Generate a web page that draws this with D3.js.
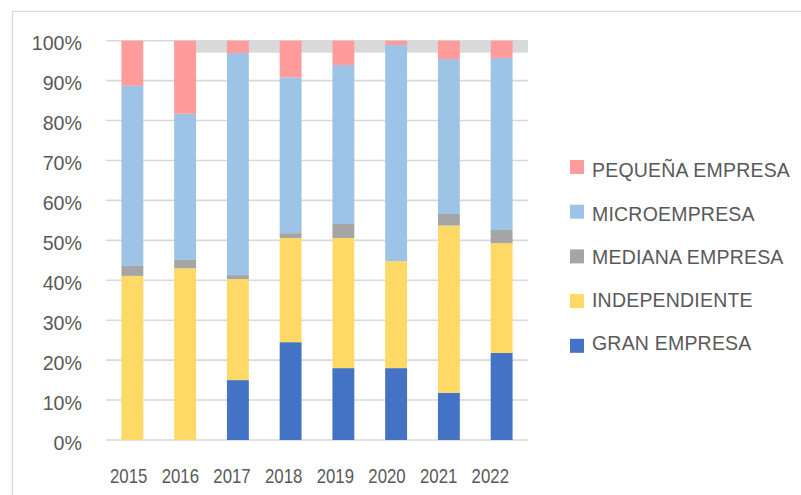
<!DOCTYPE html>
<html lang="es">
    <head>
        <meta charset="utf-8">
        <title>Empresas por tamaño 2015-2022</title>
        <script src="https://d3js.org/d3.v7.min.js"></script>
        <style type="text/css">
            body{
                margin: 0;
                background: #ffffff;
            }
            svg{
                display: block;
            }
            text{
                font-family: "Liberation Sans", Arial, sans-serif;
                fill: #595959;
            }
        </style>
    </head>
    <body>
        <svg width="801" height="495"></svg>
        <script type="text/javascript">

            // data (percent of each year)
            const years = ["2015", "2016", "2017", "2018", "2019", "2020", "2021", "2022"];
            const granEmpresa    = [0, 0, 15.0, 24.5, 18.0, 18.0, 11.8, 21.8];
            const independiente  = [41.1, 43.0, 25.3, 26.1, 32.6, 26.8, 41.9, 27.5];
            const medianaEmpresa = [2.5, 2.1, 1.0, 1.2, 3.5, 0, 2.9, 3.3];
            const microempresa   = [45.1, 36.6, 55.6, 39.0, 39.8, 54.1, 38.8, 43.1];
            const pequenaEmpresa = [11.3, 18.3, 3.1, 9.2, 6.1, 1.1, 4.6, 4.3];
            const yTicks = [0, 10, 20, 30, 40, 50, 60, 70, 80, 90, 100];

            const seriesNames = ["GRAN EMPRESA", "INDEPENDIENTE", "MEDIANA EMPRESA", "MICROEMPRESA", "PEQUEÑA EMPRESA"];
            const seriesValues = [granEmpresa, independiente, medianaEmpresa, microempresa, pequenaEmpresa];
            const colors = ["#4472C4", "#FFD966", "#A5A5A5", "#9DC3E6", "#FF9B9B"];

            // layout
            const plotLeft = 106, plotRight = 528;
            const plotTop = 40.7, plotBottom = 440;

            const svg = d3.select("svg");

            // table built from the arrays
            const table = years.map((y, i) => {
                const row = {year: y};
                seriesNames.forEach((s, k) => row[s] = seriesValues[k][i]);
                return row;
            });
            const stacked = d3.stack().keys(seriesNames)(table);

            const x = d3.scaleBand()
                .domain(years)
                .range([plotLeft, plotRight])
                .paddingInner(0.585)
                .paddingOuter(0.2925);

            const xLabel = d3.scalePoint()
                .domain(years)
                .range([128.7, 490.3]);

            const y = d3.scaleLinear()
                .domain([0, 100])
                .range([plotBottom, plotTop]);

            const color = d3.scaleOrdinal().domain(seriesNames).range(colors);

            // outer frame
            svg.append("rect")
                .attr("x", 12.5)
                .attr("y", 11.5)
                .attr("width", 800)
                .attr("height", 490)
                .attr("fill", "none")
                .attr("stroke", "#d9d9d9")
                .attr("stroke-width", 1.3);

            // gridlines
            svg.append("g")
                .selectAll("line")
                .data(yTicks)
                .join("line")
                .attr("x1", plotLeft)
                .attr("x2", plotRight)
                .attr("y1", d => y(d))
                .attr("y2", d => y(d))
                .attr("stroke", "#d9d9d9")
                .attr("stroke-width", 1.6);

            // grey strip near the top (present in the original)
            svg.append("rect")
                .attr("x", x("2016") + x.bandwidth())
                .attr("y", y(100))
                .attr("width", plotRight - (x("2016") + x.bandwidth()))
                .attr("height", y(97) - y(100))
                .attr("fill", "#d9d9d9");

            // bars
            svg.append("g")
                .selectAll("g")
                .data(stacked)
                .join("g")
                .attr("fill", d => color(d.key))
                .selectAll("rect")
                .data(d => d)
                .join("rect")
                .attr("x", d => x(d.data.year))
                .attr("y", d => y(d[1]))
                .attr("width", x.bandwidth())
                .attr("height", d => y(d[0]) - y(d[1]));

            // squeeze text horizontally (original font is narrow)
            function squeeze(sel, f){
                sel.each(function(){
                    const len = this.getComputedTextLength();
                    d3.select(this)
                        .attr("textLength", len * f)
                        .attr("lengthAdjust", "spacingAndGlyphs");
                });
            }

            // y labels
            svg.append("g")
                .selectAll("text")
                .data(yTicks)
                .join("text")
                .attr("x", 82)
                .attr("y", d => y(d) + 9.5)
                .attr("text-anchor", "end")
                .attr("font-size", "21px")
                .text(d => d + "%")
                .call(squeeze, 0.935);

            // x labels
            svg.append("g")
                .selectAll("text")
                .data(years)
                .join("text")
                .attr("x", d => xLabel(d))
                .attr("y", 483.3)
                .attr("text-anchor", "middle")
                .attr("font-size", "21px")
                .text(d => d)
                .call(squeeze, 0.8);

            // legend (reverse order)
            const legendNames = seriesNames.slice().reverse();
            const legend = svg.append("g")
                .selectAll("g")
                .data(legendNames)
                .join("g");

            legend.append("rect")
                .attr("x", 570)
                .attr("y", (d, i) => 160 + i * 44.7)
                .attr("width", 14)
                .attr("height", 14)
                .attr("fill", d => color(d));

            legend.append("text")
                .attr("x", 592)
                .attr("y", (d, i) => 177.3 + i * 43.2)
                .attr("font-size", "19.5px")
                .attr("letter-spacing", "0.2px")
                .text(d => d);

        </script>
    </body>
</html>
